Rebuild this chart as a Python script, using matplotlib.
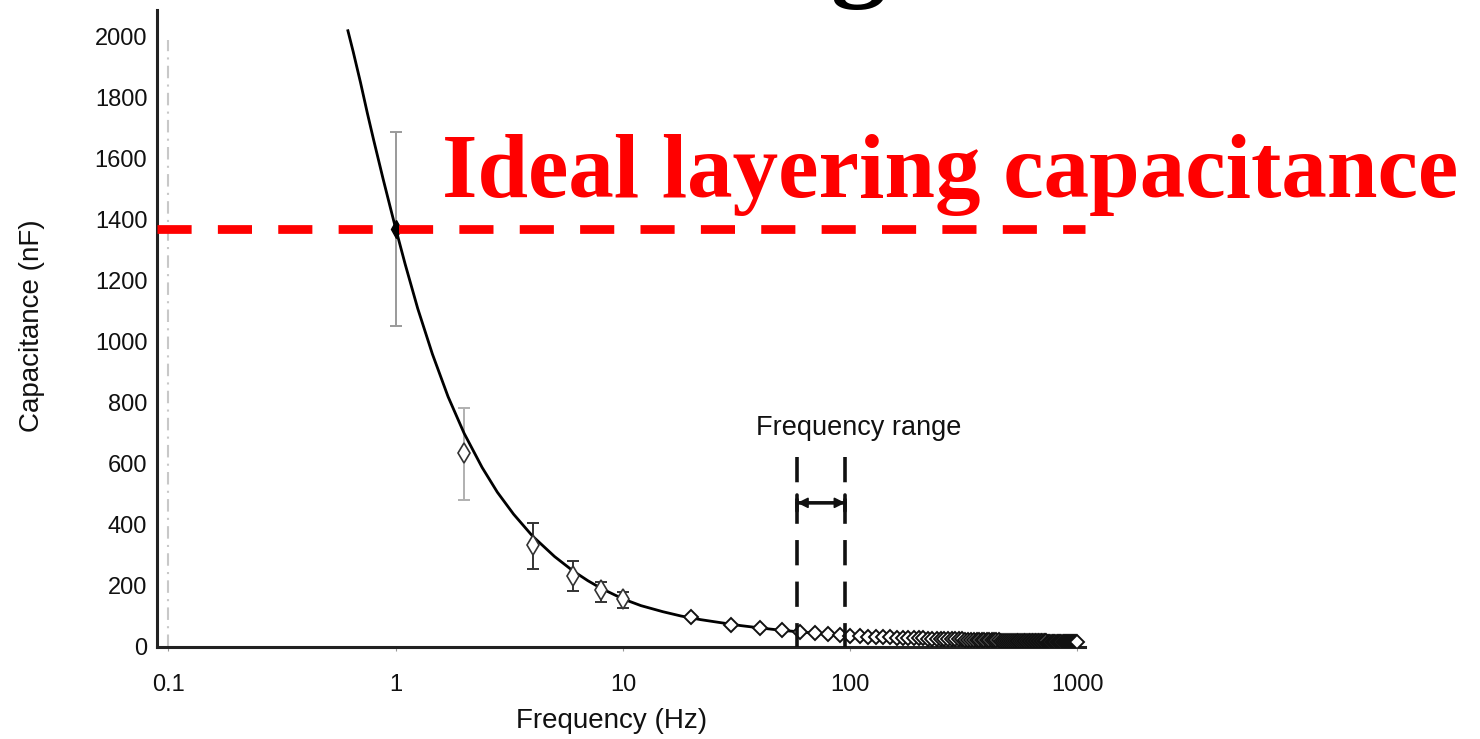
import matplotlib
matplotlib.use("Agg")
import matplotlib.pyplot as plt

# Fitted capacitance curve (Hz, nF)
curve_freq = [0.616, 0.65, 0.70, 0.75, 0.80, 0.88, 0.95, 1.0, 1.1, 1.25, 1.45, 1.7,
              2.0, 2.4, 2.8, 3.3, 4.0, 5.0, 6.0, 7.0, 8.0, 10, 12, 15, 18, 22, 27,
              33, 40, 50, 60, 75, 100, 130, 170, 220, 300, 400, 550, 750, 1000]
curve_cap = [2019, 1950, 1849, 1749, 1660, 1533, 1435, 1370, 1254, 1108, 959, 819,
             699, 587, 506, 434, 362, 295, 249, 216, 191, 156, 134, 114, 100, 88, 78,
             68.5, 61, 53, 48, 42, 35.7, 31.3, 27.7, 24.8, 21.8, 19.4, 17.2, 15.3, 13.9]

# Measured points with error bars (low frequencies)
err_freq = [1, 2, 4, 6, 8, 10]
err_cap = [1370, 634, 333, 231, 185, 155]
err_low = [1051, 480, 253, 182, 145, 125]
err_high = [1688, 781, 404, 280, 212, 180]

# Dense measured points (20 Hz to 1000 Hz, 10 Hz steps)
dense_freq = [20, 30, 40, 50, 60, 70, 80, 90, 100,
              110, 120, 130, 140, 150, 160, 170, 180, 190, 200,
              210, 220, 230, 240, 250, 260, 270, 280, 290, 300,
              310, 320, 330, 340, 350, 360, 370, 380, 390, 400,
              410, 420, 430, 440, 450, 460, 470, 480, 490, 500,
              510, 520, 530, 540, 550, 560, 570, 580, 590, 600,
              610, 620, 630, 640, 650, 660, 670, 680, 690, 700,
              710, 720, 730, 740, 750, 760, 770, 780, 790, 800,
              810, 820, 830, 840, 850, 860, 870, 880, 890, 900,
              910, 920, 930, 940, 950, 960, 970, 980, 990, 1000]
dense_cap = [96, 72, 62, 54, 48, 45, 41, 38, 35,
             33, 32, 31, 30.5, 30, 29, 28.5, 28, 27.5, 27,
             26.5, 26, 25.5, 25.5, 25, 24.5, 24, 24, 23.5, 23,
             23, 22.5, 22.5, 22, 22, 21.5, 21.5, 21, 21, 20.5,
             20.5, 20.5, 20, 20, 20, 19.5, 19.5, 19.5, 19, 19,
             19, 18.5, 18.5, 18.5, 18.5, 18, 18, 18, 18, 17.5,
             17.5, 17.5, 17.5, 17, 17, 17, 17, 17, 16.5, 16.5,
             16.5, 16.5, 16.5, 16, 16, 16, 16, 16, 16, 15.5,
             15.5, 15.5, 15.5, 15.5, 15.5, 15, 15, 15, 15, 15,
             15, 15, 14.5, 14.5, 14.5, 14.5, 14.5, 14.5, 14, 14]

x_ticks = [0.1, 1, 10, 100, 1000]
x_ticklabels = ["0.1", "1", "10", "100", "1000"]
y_ticks = [0, 200, 400, 600, 800, 1000, 1200, 1400, 1600, 1800, 2000]

ideal_cap = 1370
range_lo, range_hi = 58.5, 95
arrow_cap = 471

plt.rcParams['font.family'] = ['Liberation Sans', 'DejaVu Sans']

fig = plt.figure(figsize=(14.8, 7.39), dpi=100)
W, H = 1480, 739
ax = fig.add_axes([157 / W, (739 - 646.5) / H, 928 / W, 636.5 / H])
ax.set_xscale('log')
ax.set_xlim(0.089, 1080)
ax.set_ylim(0, 2087)

for s in ['top', 'right']:
    ax.spines[s].set_visible(False)
for s in ['left', 'bottom']:
    ax.spines[s].set_linewidth(2.2)
    ax.spines[s].set_color('#222222')

ax.set_xticks(x_ticks)
ax.set_xticklabels(x_ticklabels)
ax.xaxis.set_minor_locator(matplotlib.ticker.NullLocator())
ax.set_yticks(y_ticks)
ax.tick_params(axis='x', length=3, width=0.8, color='#999999', pad=17,
               labelsize=17, labelcolor='#111111')
ax.tick_params(axis='y', length=0, pad=7, labelsize=17, labelcolor='#111111')

ax.set_xlabel("Frequency (Hz)", fontsize=20, color='#111111')
ax.xaxis.set_label_coords((612 - 157) / 928, (646.5 - 721) / 636.5)
ax.xaxis.label.set_va('center')
ax.set_ylabel("Capacitance (nF)", fontsize=20, color='#111111')
ax.yaxis.set_label_coords((32 - 157) / 928, (646.5 - 326) / 636.5)
ax.yaxis.label.set_va('center')

# reference line at 0.1 Hz
ax.plot([0.1, 0.1], [0, 1990], color='#c8c8c8', lw=1.5, dashes=(6, 3, 1, 3))

# fitted curve
ax.plot(curve_freq, curve_cap, color='black', lw=2.0, zorder=4)

# error bars
ecolors = ['#9a9a9a', '#b0b0b0', '#333333', '#333333', '#333333', '#333333']
for f, c, lo, hi, ec in zip(err_freq, err_cap, err_low, err_high, ecolors):
    ax.errorbar([f], [c], yerr=[[c - lo], [hi - c]], fmt='none', ecolor=ec,
                elinewidth=1.4, capsize=4, capthick=1.4, zorder=3)

# measured markers
ax.plot(err_freq[1:], err_cap[1:], linestyle='none', marker='d', markersize=10,
        markerfacecolor='white', markeredgecolor='#333333', markeredgewidth=1.2, zorder=5)
ax.plot(dense_freq, dense_cap, linestyle='none', marker='D', markersize=7.5,
        markerfacecolor='white', markeredgecolor='#111111', markeredgewidth=1.4, zorder=5)
ax.plot([err_freq[0]], [err_cap[0]], linestyle='none', marker='d', markersize=9,
        markerfacecolor='black', markeredgecolor='black', zorder=6)

# frequency range markers
for fx in (range_lo, range_hi):
    ax.plot([fx, fx], [620, 0], color='#111111', lw=2.6, dashes=(7, 4.5), zorder=6)
ax.annotate('', xy=(range_lo, arrow_cap), xytext=(range_hi, arrow_cap),
            arrowprops=dict(arrowstyle='<|-|>', color='#111111', lw=1.2,
                            mutation_scale=16, shrinkA=0, shrinkB=0))
ax.annotate('', xy=(range_lo, arrow_cap), xytext=(range_hi, arrow_cap),
            arrowprops=dict(arrowstyle='|-|, widthA=0.6, widthB=0.6', color='#111111',
                            lw=2.6, shrinkA=0, shrinkB=0))
ax.text(109, 717, "Frequency range", fontsize=19.5, ha='center', va='center',
        color='#111111')

# ideal layering capacitance
ax.plot([0.089, 1075], [ideal_cap, ideal_cap], color='red', lw=6.3,
        dashes=(3.9, 3.0), solid_capstyle='butt', clip_on=False, zorder=7)
fig.text(442 / W, 1 - 197 / H, "Ideal layering capacitance", color='red',
         fontsize=65.5, fontweight='bold', family=['Liberation Serif', 'DejaVu Serif'],
         ha='left', va='baseline')

# title fragment from above
fig.text(858 / W, 1 + 14 / H, "g", color='black', fontsize=80, fontweight='bold',
         family=['Liberation Serif', 'DejaVu Serif'], ha='center', va='baseline')

fig.savefig("out.png", dpi=100)
